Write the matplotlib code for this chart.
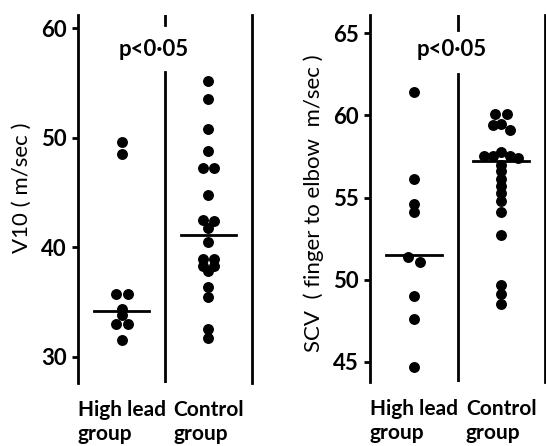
import matplotlib
matplotlib.use('Agg')
import matplotlib.pyplot as plt

# Valores
groups = ['High lead\ngroup', 'Control\ngroup']

v10_high = [49.6, 48.5, 35.7, 35.7, 34.4, 33.8, 33.0, 33.0, 31.5]
v10_ctrl = [55.2, 53.5, 50.8, 48.8, 47.2, 47.2, 44.8, 42.5, 42.4, 41.8, 40.5,
            38.9, 38.9, 38.3, 38.3, 37.8, 36.4, 35.5, 32.5, 31.7]
v10_medians = [34.2, 41.1]

scv_high = [61.4, 56.1, 54.6, 54.1, 51.4, 51.1, 49.0, 47.6, 44.7]
scv_ctrl = [60.1, 60.1, 59.5, 59.4, 59.1, 57.8, 57.5, 57.5, 57.5, 57.4, 57.0,
            56.6, 56.1, 55.7, 55.3, 54.8, 54.1, 52.7, 49.7, 49.1, 48.5]
scv_medians = [51.5, 57.2]

plt.rcParams['font.family'] = ['Lato', 'DejaVu Sans']
plt.rcParams['font.weight'] = 'bold'

W, H = 546, 446
fig = plt.figure(figsize=(W / 100, H / 100), dpi=100)


def px_axes(x0, x1, y0, y1):
    # posicion en pixeles de la imagen (y hacia abajo)
    return fig.add_axes([x0 / W, (H - y1) / H, (x1 - x0) / W, (y1 - y0) / H])


def swarm(ax, xc, values, tol=5.2):
    # agrupa puntos casi iguales y los reparte a lo ancho
    xpx = ax.transData.transform((1, 0))[0] - ax.transData.transform((0, 0))[0]
    order = sorted(values, reverse=True)
    ys = [ax.transData.transform((0, v))[1] for v in order]
    grps, cur = [], [0]
    for i in range(1, len(order)):
        if abs(ys[i] - ys[i - 1]) < tol:
            cur.append(i)
        else:
            grps.append(cur)
            cur = [i]
    grps.append(cur)
    xs, vs = [], []
    for g in grps:
        n = len(g)
        if n == 1:
            offs = [0]
        elif n % 2 == 0:
            offs = [(k - (n - 1) / 2) * 12 for k in range(n)]
        else:
            offs = [0]
            for k in range(1, n):
                step = (k + 1) // 2
                offs.append(-step * 8.5 if k % 2 else step * 8.5)
        for i, o in zip(g, offs):
            xs.append(xc + o / xpx)
            vs.append(order[i])
    return xs, vs


def panel(ax, high, ctrl, medians, ylim, yticks, ylabel, label_y, div_top, dash_bot,
          ptxt_x):
    ax.set_xlim(0, 2)
    ax.set_ylim(*ylim)
    for s in ['top', 'right', 'bottom']:
        ax.spines[s].set_visible(False)
    ax.spines['left'].set_linewidth(2)
    ax.axvline(2, color='black', lw=2, clip_on=False)
    ax.axvline(1, 0, div_top, color='black', lw=2)
    ax.axvline(1, dash_bot, 1, color='black', lw=2)

    for xc, vals, med in zip([0.5, 1.5], [high, ctrl], medians):
        xs, vs = swarm(ax, xc, vals)
        ax.scatter(xs, vs, s=62, color='black', zorder=3, linewidths=0)
        ax.plot([xc - 0.32, xc + 0.32], [med, med], color='black', lw=2)

    ax.set_yticks(yticks)
    ax.tick_params(axis='y', length=4, width=2, labelsize=16, pad=4)
    ax.set_xticks([0.5, 1.5])
    ax.set_xticklabels(groups, fontsize=15)
    for t in ax.get_xticklabels():
        t.set_multialignment('left')
        t.set_linespacing(1.3)
    ax.tick_params(axis='x', length=0, pad=12)
    ax.set_ylabel(ylabel, fontsize=16)
    ax.yaxis.set_label_coords(-0.265, label_y)
    ax.text(ptxt_x, 0.905, 'p<0\u00b705', transform=ax.transAxes, ha='center',
            va='center', fontsize=16)


ax1 = px_axes(78, 252, 15, 383)
panel(ax1, v10_high, v10_ctrl, v10_medians, (27.61, 61.21), [30, 40, 50, 60],
      'V10 ( m/sec )', 0.53, 0.846, 0.973, 0.437)

ax2 = px_axes(370, 545, 15, 382)
panel(ax2, scv_high, scv_ctrl, scv_medians, (43.77, 66.11), [45, 50, 55, 60, 65],
      'SCV  ( finger to elbow  m/sec )', 0.486, 0.839, 0.959, 0.466)

fig.savefig('out.png', dpi=100)
